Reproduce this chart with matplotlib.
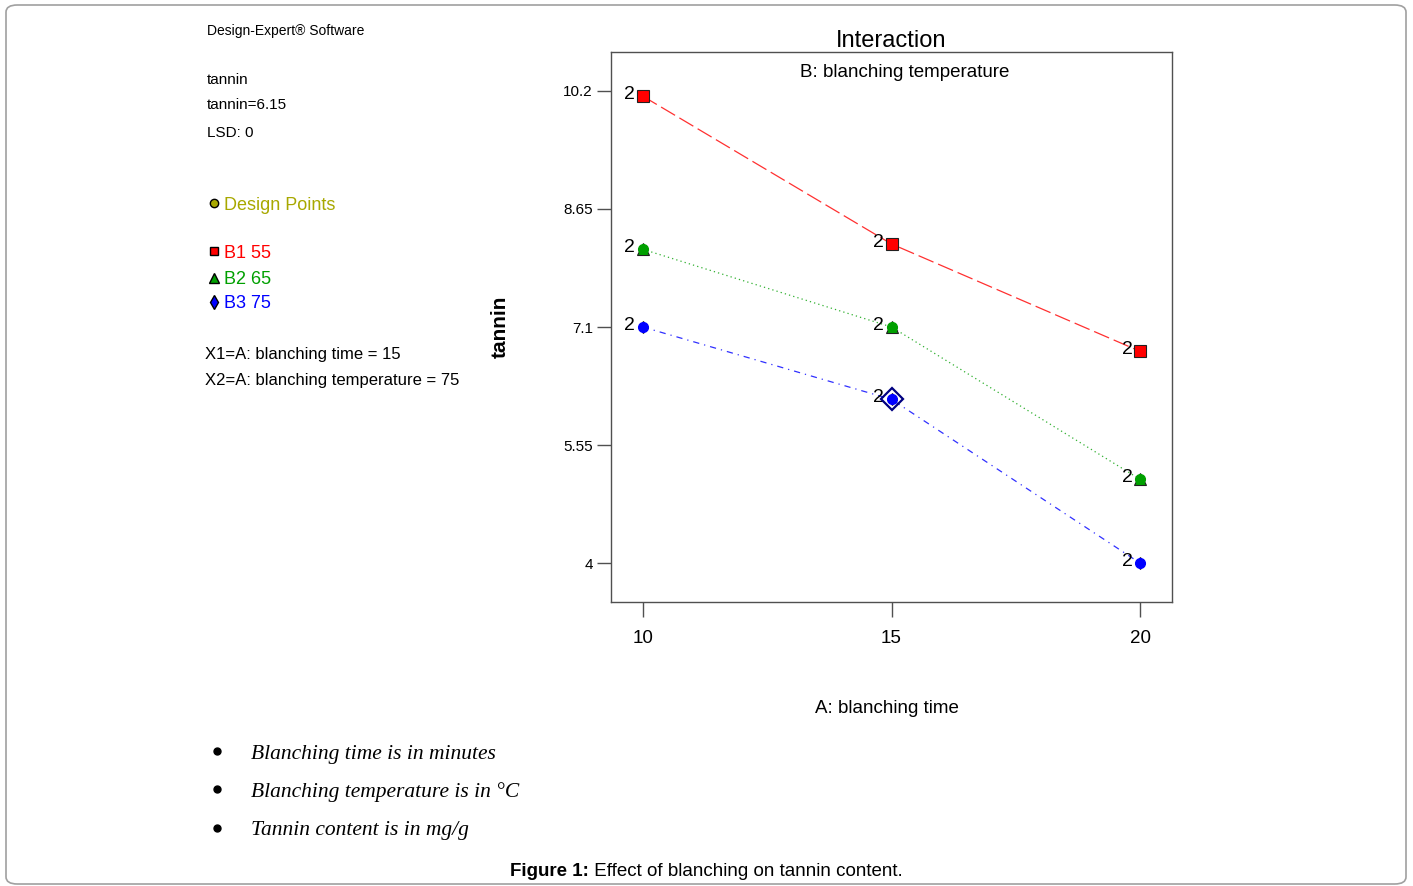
"""Interaction plot : effet du temps de blanchiment sur la teneur en tannin."""

import matplotlib

matplotlib.use("Agg")

import matplotlib.pyplot as plt
from matplotlib.lines import Line2D
from matplotlib.patches import FancyBboxPatch

plt.rcParams["font.family"] = ["Liberation Sans", "DejaVu Sans"]

# Donnees
blanching_time = [10, 15, 20]
tannin_b1 = [10.13, 8.19, 6.78]   # B1 55
tannin_b2 = [8.12, 7.10, 5.10]    # B2 65
tannin_b3 = [7.10, 6.15, 4.00]    # B3 75
replicates = [2, 2, 2]
y_ticks = [4, 5.55, 7.1, 8.65, 10.2]
y_ticklabels = ["4", "5.55", "7.1", "8.65", "10.2"]
x_ticks = [10, 15, 20]
pred_time = 15
pred_tannin = 6.15

series = [
    ("B1 55", tannin_b1, "#ff0000", "#ff3030", "s", 8, (0, (13, 4))),
    ("B2 65", tannin_b2, "#00a000", "#30b030", "^", 8.5, (0, (1, 2.5))),
    ("B3 75", tannin_b3, "#0000ff", "#3030ff", "d", 6.5, (0, (5, 4, 1, 4))),
]

W, H = 1413, 886
fig = plt.figure(figsize=(W / 100, H / 100), dpi=100)


def fx(px):
    return px / W


def fy(py):
    # petit decalage : va="center" place le texte un peu trop haut
    return 1 - (py + 2) / H


# Cadre arrondi autour de la figure
fig.add_artist(FancyBboxPatch(
    (6 / W, 1 - 884 / H), 1400 / W, (884 - 5) / H,
    boxstyle="round,pad=0,rounding_size=0.008",
    transform=fig.transFigure, fill=False, edgecolor="#a0a0a0", lw=1.2,
))

ax = fig.add_axes([611 / W, 1 - 602 / H, (1172 - 611) / W, (602 - 52) / H])

for name, values, color, lcolor, marker, ms, dash in series:
    ax.plot(blanching_time, values, color=lcolor, lw=0.9, linestyle=dash, zorder=2)
    ax.plot(blanching_time, values, linestyle="none", marker=marker, markersize=ms,
            markerfacecolor=color, markeredgecolor="#202020", markeredgewidth=0.8, zorder=3)
    ax.plot(blanching_time, values, linestyle="none", marker="o", markersize=7,
            markerfacecolor=color, markeredgecolor=color, zorder=4)
    for x, y, n in zip(blanching_time, values, replicates):
        ax.annotate(str(n), (x, y), xytext=(-5.5, 1), textcoords="offset points",
                    ha="right", va="center", fontsize=14, zorder=5)

# Point de prediction
ax.plot([pred_time], [pred_tannin], linestyle="none", marker="D", markersize=11,
        markerfacecolor="none", markeredgecolor="#000080", markeredgewidth=1.6, zorder=6)

ax.set_xlim(9.36, 20.64)
ax.set_ylim(3.49, 10.71)
ax.set_xticks(x_ticks)
ax.set_xticklabels([str(t) for t in x_ticks], fontsize=13.5)
ax.set_yticks(y_ticks)
ax.set_yticklabels(y_ticklabels, fontsize=11)
ax.tick_params(axis="x", length=11, width=1, color="#505050", pad=9.5)
ax.tick_params(axis="y", length=10, width=1, color="#505050", pad=3)
for sp in ax.spines.values():
    sp.set_color("#505050")
    sp.set_linewidth(1)

ax.set_title("Interaction", fontsize=17, pad=3)
ax.text(0.524, 0.962, "B: blanching temperature", transform=ax.transAxes,
        ha="center", va="center", fontsize=13.5)
ax.set_xlabel("A: blanching time", fontsize=13.5)
ax.xaxis.set_label_coords(0.492, -0.178)
ax.set_ylabel("tannin", fontsize=15, fontweight="bold")
ax.yaxis.set_label_coords(-0.18, 0.5)

# Panneau d'information a gauche
fig.text(fx(207), fy(29), "Design-Expert® Software", fontsize=10, va="center")
fig.text(fx(207), fy(78), "tannin", fontsize=11, va="center")
fig.text(fx(207), fy(103), "tannin=6.15", fontsize=11, va="center")
fig.text(fx(207), fy(131), "LSD: 0", fontsize=11, va="center")

legend_rows = [
    (203, "Design Points", "#a8a800", "o", 6),
    (251, "B1 55", "#ff0000", "s", 6),
    (278, "B2 65", "#00a000", "^", 7),
    (302, "B3 75", "#0000ff", "d", 7),
]
for py, label, color, marker, ms in legend_rows:
    fig.add_artist(Line2D([fx(214)], [1 - py / H], marker=marker, markersize=ms,
                          markerfacecolor=color, markeredgecolor="black",
                          markeredgewidth=1, transform=fig.transFigure))
    fig.text(fx(224), fy(py), label, color=color, fontsize=13, va="center")

fig.text(fx(205), fy(353), "X1=A: blanching time = 15", fontsize=12, va="center")
fig.text(fx(205), fy(378), "X2=A: blanching temperature = 75", fontsize=12, va="center")

# Notes en bas
notes = [
    (751, "Blanching time is in minutes"),
    (789, "Blanching temperature is in °C"),
    (828, "Tannin content is in mg/g"),
]
for py, note in notes:
    fig.add_artist(Line2D([fx(217)], [1 - py / H], marker="o", markersize=5,
                          color="black", transform=fig.transFigure))
    fig.text(fx(251), fy(py + 1), note, fontsize=15.5, va="center",
             family="Liberation Serif", style="italic")

fig.text(fx(510), fy(869), "Figure 1:", fontsize=13.5, fontweight="bold", va="center")
fig.text(fx(589), fy(869), " Effect of blanching on tannin content.", fontsize=13.5,
         va="center")

fig.savefig("out.png", dpi=100)
plt.close(fig)
